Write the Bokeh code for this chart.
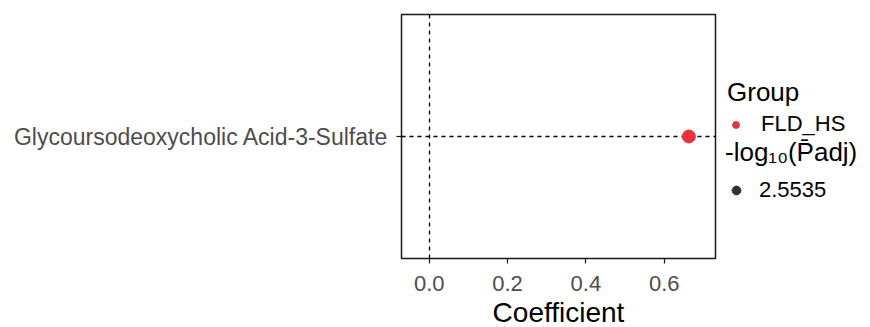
from bokeh.plotting import figure
from bokeh.layouts import row
from bokeh.models import (ColumnDataSource, Range1d, FactorRange, FixedTicker, PrintfTickFormatter,
                          Legend, LegendItem)
from bokeh.embed import file_html
from bokeh.resources import INLINE

# ---- data ----
metabolites = ["Glycoursodeoxycholic Acid-3-Sulfate"]
coefficients = [0.663]
groups = ["FLD_HS"]
neg_log10_padj = [2.5535]
x_ticks = [0.0, 0.2, 0.4, 0.6]

FONT = "Liberation Sans"
RED = "#E8323C"
DARK = "#333333"

src = ColumnDataSource(dict(metabolite=metabolites, coef=coefficients,
                            group=groups, nlp=neg_log10_padj))

p = figure(frame_width=314, frame_height=244,
           min_border_left=401, min_border_right=5, min_border_top=14, min_border_bottom=69,
           x_range=Range1d(-0.0707, 0.731), y_range=FactorRange(factors=metabolites),
           output_backend="svg", toolbar_location=None, background_fill_color="white",
           border_fill_color="white")

p.xgrid.visible = False
p.ygrid.visible = False
p.outline_line_color = "#1a1a1a"
p.outline_line_width = 1.5
p.outline_line_alpha = 1.0

# reference lines
p.vspan(x=[0.0], line_color="black", line_width=1.3, line_dash="4 4")
p.hspan(y=metabolites, line_color="black", line_width=1.3, line_dash="4 4")

# points
p.scatter(x="coef", y="metabolite", source=src, size=13,
          fill_color=RED, line_color=RED, marker="circle")

# axes
for ax in (p.xaxis[0], p.yaxis[0]):
    ax.axis_line_color = None
    ax.major_tick_line_color = "#1a1a1a"
    ax.major_tick_line_width = 1.2
    ax.major_tick_out = 5
    ax.major_tick_in = 0
    ax.minor_tick_line_color = None
    ax.major_label_text_font = FONT
    ax.major_label_text_color = "#4D4D4D"

p.xaxis.major_label_text_font_size = "22px"
p.yaxis.major_label_text_font_size = "23px"
p.xaxis.ticker = FixedTicker(ticks=x_ticks)
p.xaxis.formatter = PrintfTickFormatter(format="%.1f")
p.xaxis.major_label_standoff = 12
p.xaxis.axis_label = "Coefficient"
p.xaxis.axis_label_text_font = FONT
p.xaxis.axis_label_text_font_size = "28px"
p.xaxis.axis_label_text_font_style = "normal"
p.xaxis.axis_label_text_color = "black"
p.xaxis.axis_label_standoff = 3
p.yaxis.major_label_standoff = 8

# ---- legend panel (its ranges keep the key glyphs' data out of view) ----
lg = figure(width=150, height=327, min_border=0, x_range=Range1d(5, 6), y_range=Range1d(5, 6),
            x_axis_location=None, y_axis_location=None, output_backend="svg",
            toolbar_location=None, outline_line_color=None)
lg.xgrid.visible = False
lg.ygrid.visible = False
r_grp = lg.scatter(x="coef", y="nlp", source=src,
                   fill_color=RED, line_color=RED, marker="circle")
r_nlp = lg.scatter(x="coef", y="nlp", source=src,
                   fill_color=DARK, line_color=DARK, marker="circle")

def make_legend(title, item, loc, gsize, title_size, standoff, title_standoff):
    return Legend(items=[item], location=loc, title=title,
                  title_text_font=FONT, title_text_font_size=title_size,
                  title_text_font_style="normal", title_text_color="black",
                  label_text_font=FONT, label_text_font_size="22px", label_text_color="black",
                  glyph_width=gsize, glyph_height=gsize, label_standoff=standoff,
                  padding=0, margin=0, spacing=0, title_standoff=title_standoff,
                  border_line_color=None, background_fill_alpha=0)

leg1 = make_legend("Group", LegendItem(label=groups[0], renderers=[r_grp]),
                   (7, 118), 17, "26px", 17, 3)
leg2 = make_legend("-log\u2081\u2080(P\u0304adj)",
                   LegendItem(label=f"{neg_log10_padj[0]:.4f}", renderers=[r_nlp]),
                   (5, 52), 22, "26px", 12, 9)
lg.add_layout(leg1, "center")
lg.add_layout(leg2, "center")

layout = row(p, lg, spacing=0)
open("out.html", "w").write(file_html(layout, INLINE))
